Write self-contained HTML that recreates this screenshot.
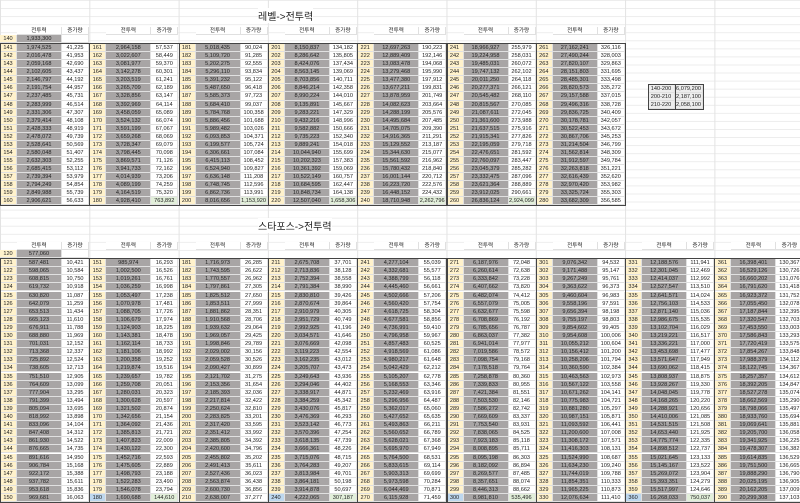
<!DOCTYPE html>
<html><head><meta charset="utf-8">
<style>
html,body{margin:0;padding:0;background:#fff;}
body{width:800px;height:502px;position:relative;overflow:hidden;font-family:"Liberation Sans","Noto Sans CJK KR",sans-serif;
background-image:linear-gradient(to right,#e3e3e3 1px,transparent 1px),linear-gradient(to bottom,#ececec 1px,transparent 1px);background-size:89.3px 100%,100% 8.07px;}
.c{position:absolute;box-sizing:border-box;font-size:5.6px;line-height:8px;text-align:center;color:#222;white-space:nowrap;overflow:hidden;border-right:1px solid #e0e0e0;border-bottom:1px solid #e0e0e0;}
.t{position:absolute;font-size:10px;color:#222;background:#fff;}
</style></head><body>
<div class="t" style="left:258px;top:8px;">레벨-&gt;전투력</div>
<div class="t" style="left:258px;top:218px;">스타포스-&gt;전투력</div>
<script>
var W=89.3;
function fmt(n){return Math.round(n).toString().replace(/\B(?=(\d{3})+(?!\d))/g,",");}
function cell(x,y,w,h,txt,bg,extra){var d=document.createElement('div');d.className='c';d.style.cssText='left:'+x+'px;top:'+y+'px;width:'+w+'px;height:'+h+'px;background:'+(bg||'#fff')+';'+(extra||'');d.textContent=txt;document.body.appendChild(d);}
function box(x,y,w,h){var d=document.createElement('div');d.style.cssText='position:absolute;left:'+x+'px;top:'+y+'px;width:'+w+'px;height:'+h+'px;border:1px solid #444;box-sizing:border-box;';document.body.appendChild(d);}
function table(y0,rh,start,startVal,groups,per,r0,r1,specials,blue,mult){
  for(var g=0;g<groups;g++){var x=g*W;
    cell(x+17,y0-rh,45,rh,'전투력');cell(x+62,y0-rh,27,rh,'증가량');}
  cell(0,y0,17,rh,String(start),'#fff2cc');cell(17,y0,45,rh,fmt(startVal),'#a8a5a5');cell(62,y0,27,rh,'');
  var v=startVal,n=start,total=groups*per;
  var ys=y0+rh+1;
  for(var g=0;g<groups;g++){var x=g*W;
    for(var i=0;i<per;i++){n++;var r=r0+(r1-r0)*(n-start)/total;var inc=v*r;var sp=specials.indexOf(n)>=0;
      if(sp)inc=inc*mult;v+=inc;var y=ys+i*rh;
      cell(x,y,17,rh,String(n),(sp&&blue)?'#bdd7ee':'#fff2cc');
      cell(x+17,y,45,rh,fmt(v),'#a8a5a5');
      cell(x+62,y,27,rh,fmt(inc),sp?'#e2efda':'#fff');}
    box(x,ys-1,W+1,per*rh+2);}
}
table(35,8.07,140,1933300,7,20,0.0214,0.0107,[180,200,220,240,260],false,10);
table(250,8.1,120,577060,9,30,0.0181,0.0068,[180,240,300,360],true,6);
var sy=85;var rows=[['140-200','6,079,200'],['200-210','2,187,100'],['210-220','2,058,100']];
for(var i=0;i<3;i++){cell(648,sy+i*8,27,8,rows[i][0],'#ededed');cell(675,sy+i*8,28,8,rows[i][1],'#ededed');}
box(648,sy-1,28,26);box(675,sy-1,29,26);
</script>
</body></html>
